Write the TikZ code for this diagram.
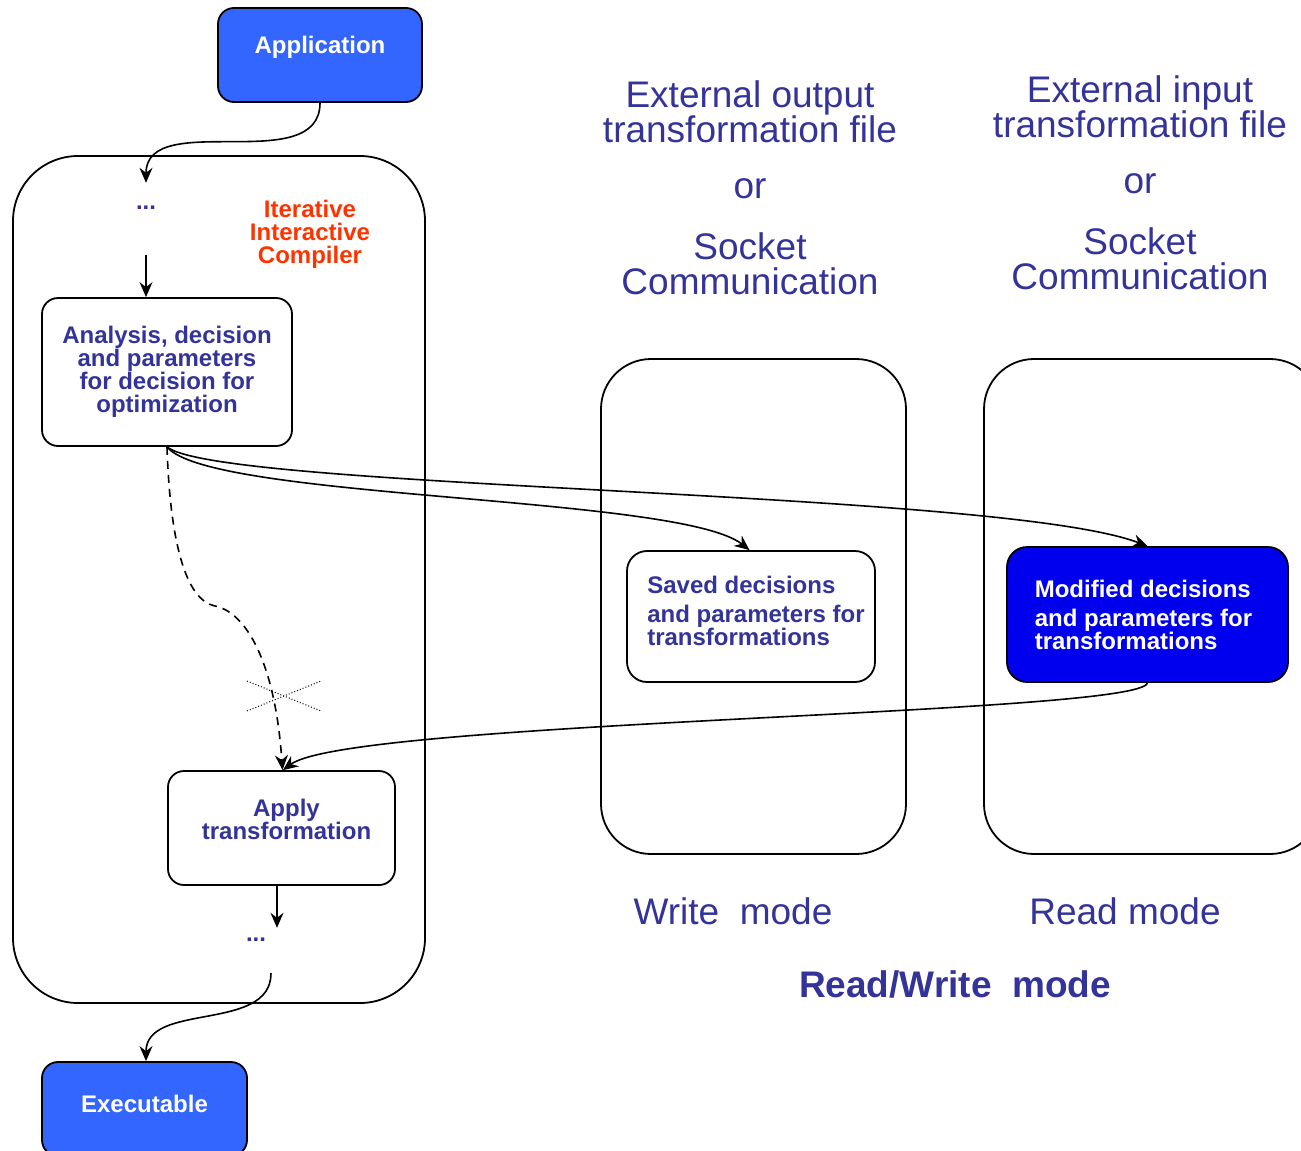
\documentclass[tikz,border=0pt]{standalone}
\usepackage{fontspec}
\setmainfont{Liberation Sans}
\usepackage{xcolor}
\usepackage{tikz}
\usetikzlibrary{arrows}
\usetikzlibrary{arrows.meta}
\usetikzlibrary{positioning}
\usetikzlibrary{shapes.misc}
\definecolor{appblue}{HTML}{3366FF}
\definecolor{modblue}{HTML}{0000EE}
\definecolor{textblue}{HTML}{333399}
\definecolor{iicred}{HTML}{FF3300}
\tikzstyle{frame} = [draw=black, line width=1.8pt, rounded corners=50pt]
\tikzstyle{block} = [draw=black, line width=1.8pt, rounded corners=16pt, align=center,
  text=textblue, font=\fontsize{24}{23}\selectfont\bfseries, inner sep=0pt]
\tikzstyle{bluebox} = [block, fill=appblue, text=white]
\tikzstyle{bluetxt} = [text=textblue, font=\fontsize{24}{23}\selectfont\bfseries]
\tikzstyle{whitetxt} = [text=white, font=\fontsize{24}{23}\selectfont\bfseries]
\tikzstyle{dots} = [text=textblue, font=\fontsize{24}{23}\selectfont\bfseries, minimum height=50pt]
\tikzstyle{redtxt} = [text=iicred, align=center, font=\fontsize{24}{23}\selectfont\bfseries]
\tikzstyle{big} = [text=textblue, align=center, font=\fontsize{37}{35}\selectfont]
\tikzstyle{flow} = [->, >={Stealth[length=15pt, width=13pt, inset=5pt]}, line width=1.6pt]

\begin{document}
\begin{tikzpicture}[x=1pt, y=-1pt]
  \useasboundingbox (0,0) rectangle (1301,1151);
  % frames
  \node[frame, rounded corners=65pt, minimum width=412pt, minimum height=847pt] (iic) at (219,579.5) {};
  \node[frame, minimum width=305pt, minimum height=495pt] (wframe) at (753.5,606.5) {};
  \node[frame, minimum width=336pt, minimum height=495pt] (rframe) at (1152,606.5) {};
  % application and executable
  \node[bluebox, minimum width=204pt, minimum height=94pt,
    label={[whitetxt, yshift=8pt]center:Application}] (app) at (320,55) {};
  \node[bluebox, minimum width=205pt, minimum height=94pt,
    label={[whitetxt, yshift=5pt]center:Executable}] (exe) at (144.5,1109) {};
  % compiler
  \node[dots] (dots1) at (146,208) {...};
  \node[redtxt] (iictag) at (310,234) {Iterative\\Interactive\\Compiler};
  \node[block, minimum width=250pt, minimum height=148pt] (ana) at (167,372)
    {Analysis, decision\\and parameters\\for decision for\\optimization};
  \node[block, minimum width=227pt, minimum height=114pt,
    label={[bluetxt, align=center, xshift=5pt, yshift=9pt]center:Apply\\transformation}] (apply) at (281.5,828) {};
  \node[dots] (dots2) at (256,940) {...};
  \node[cross out, draw, dotted, line width=1pt, inner sep=0pt,
    minimum width=73pt, minimum height=29pt] (blocked) at (284,696) {};
  % saved and modified
  \node[block, rounded corners=20pt, minimum width=248pt, minimum height=131pt,
    label={[bluetxt, align=left, xshift=5pt, yshift=6pt]center:Saved decisions\\[6pt]and parameters for\\transformations}]
    (saved) at (751,616.5) {};
  \node[bluebox, fill=modblue, rounded corners=20pt, minimum width=281pt, minimum height=135pt,
    label={[whitetxt, align=left, xshift=-4pt]center:Modified decisions\\[6pt]and parameters for\\transformations}]
    (mod) at (1147.5,614.5) {};
  % tags
  \node[big] (outfile) at (750,112) {External output\\transformation file};
  \node[big] (or1) at (750,189) {or};
  \node[big] (sock1) at (750,264) {Socket\\Communication};
  \node[big] (infile) at (1140,107) {External input\\transformation file};
  \node[big] (or2) at (1140,184) {or};
  \node[big] (sock2) at (1140,259) {Socket\\Communication};
  \node[big] (wmode) at (733,911) {Write~~mode};
  \node[big] (rmode) at (1125,911) {Read mode};
  \node[big, font=\fontsize{37}{35}\selectfont\bfseries] (rwmode) at (955,984) {Read/Write~~mode};

  % edges
  \draw[flow] (app.south) to[out=-90, in=90] (dots1.north);
  \draw[flow] ([yshift=-22pt]dots1.south) -- (dots1.south |- ana.north);
  \draw[flow] (ana.south) .. controls (210,500) and (680,495) .. ([xshift=-1.5pt]saved.north);
  \draw[flow] (ana.south) .. controls (220,490) and (1000,490) .. (mod.north);
  \draw[flow, dash pattern=on 8pt off 6pt] (ana.south) .. controls (170,540) and (185,600) .. (215,606)
    .. controls (245,612) and (275,660) .. ([xshift=1pt]apply.north);
  \draw[flow] (mod.south) .. controls (1140,715) and (350,720) .. ([xshift=1.5pt]apply.north);
  \draw[flow] ([xshift=-4.5pt]apply.south) -- ([xshift=21pt, yshift=-13pt]dots2.north);
  \draw[flow] ([xshift=15pt, yshift=-8pt]dots2.south) to[out=-90, in=90] ([xshift=1.5pt]exe.north);
\end{tikzpicture}
\end{document}
